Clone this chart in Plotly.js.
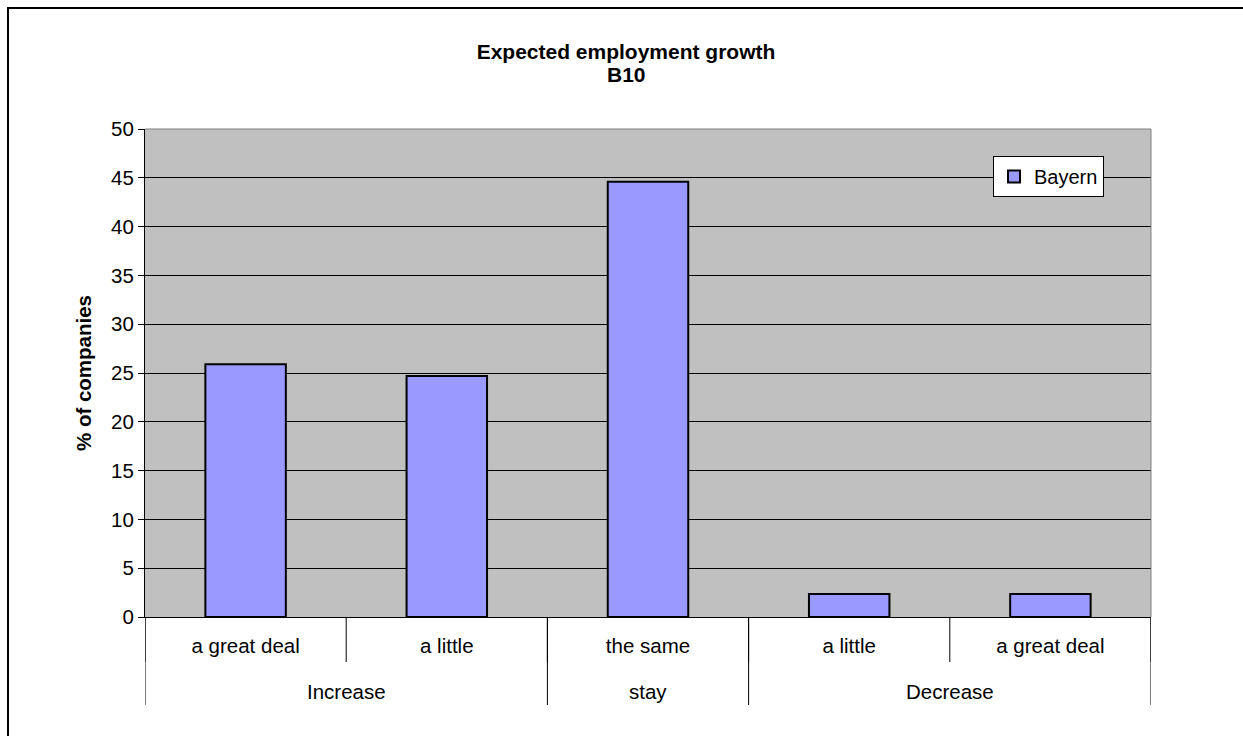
<!DOCTYPE html>
<html>
<head>
<meta charset="utf-8">
<script src="https://cdn.plot.ly/plotly-3.0.1.min.js"></script>
<style>
  html, body { margin: 0; padding: 0; background: #fff; }
  #chart { width: 1243px; height: 736px; }
</style>
</head>
<body>
<div id="chart"></div>
<script>
// ---- data ----
const titleLine1 = 'Expected employment growth';
const titleLine2 = 'B10';
const subLabels = ['a great deal', 'a little', 'the same', 'a little', 'a great deal'];
const groupLabels = ['Increase', 'stay', 'Decrease'];
const groupSizes = [2, 1, 2];
const seriesName = 'Bayern';
const values = [25.9, 24.7, 44.6, 2.35, 2.35];
const yTickVals = [0, 5, 10, 15, 20, 25, 30, 35, 40, 45, 50];

// ---- layout helpers ----
const W = 1243, H = 736;
const M = { l: 145, r: 92, t: 129, b: 119 };
const PW = W - M.l - M.r, PH = H - M.t - M.b;
const px = x => (x - M.l) / PW;
const py = y => (H - M.b - y) / PH;

const FONT = '"Liberation Sans", Arial, "DejaVu Sans", sans-serif';
const FS = 20.5;
const TFS = 21;

const xIdx = subLabels.map((_, i) => i);

// category boundary ticks and group dividers
const shapes = [];
for (let i = 0; i <= subLabels.length; i++) {
  shapes.push({ type: 'line', xref: 'x', yref: 'paper', x0: i - 0.5, x1: i - 0.5,
    y0: 0, y1: py(662), line: { color: '#000', width: 1 } });
}
const annotations = [];
let start = 0;
const groupEdges = [start];
groupSizes.forEach((n, g) => {
  const center = start + (n - 1) / 2;
  annotations.push({ x: center, xref: 'x', y: py(691), yref: 'paper', text: groupLabels[g],
    showarrow: false, xanchor: 'center', yanchor: 'middle', font: { family: FONT, size: FS, color: '#000' } });
  start += n;
  groupEdges.push(start);
});
groupEdges.forEach(e => {
  shapes.push({ type: 'line', xref: 'x', yref: 'paper', x0: e - 0.5, x1: e - 0.5,
    y0: 0, y1: py(705), line: { color: '#000', width: 1 } });
});
// second title line
annotations.push({ x: (626 - M.l) / PW, xref: 'paper', y: py(74), yref: 'paper', text: '<b>' + titleLine2 + '</b>',
  showarrow: false, xanchor: 'center', yanchor: 'middle', font: { family: FONT, size: TFS, color: '#000' } });

// plot area top and right borders (gray)
shapes.push({ type: 'line', xref: 'paper', yref: 'paper', x0: 0, x1: 1, y0: 1, y1: 1, line: { color: '#808080', width: 1 } });
shapes.push({ type: 'line', xref: 'paper', yref: 'paper', x0: 1, x1: 1, y0: 0, y1: 1, line: { color: '#808080', width: 1 } });
// outer chart border
shapes.push({ type: 'rect', xref: 'paper', yref: 'paper', x0: px(8), x1: px(1260), y0: py(8), y1: py(760),
  line: { color: '#000', width: 2 }, fillcolor: 'rgba(0,0,0,0)' });

const trace = {
  type: 'bar',
  name: seriesName,
  x: xIdx,
  y: values,
  width: 0.4,
  marker: { color: '#9999FF', line: { color: '#000', width: 2 } },
  showlegend: true
};

const layout = {
  width: W, height: H,
  margin: M,
  paper_bgcolor: '#fff',
  plot_bgcolor: '#C0C0C0',
  font: { family: FONT, size: FS, color: '#000' },
  title: {
    text: '<b>' + titleLine1 + '</b>',
    font: { family: FONT, size: TFS, color: '#000' },
    x: 626 / W, xref: 'container', xanchor: 'center',
    y: 1 - 52 / H, yref: 'container', yanchor: 'middle'
  },
  showlegend: true,
  legend: {
    x: px(993), y: py(156), xanchor: 'left', yanchor: 'top',
    bgcolor: '#fff', bordercolor: '#000', borderwidth: 1,
    font: { family: FONT, size: 20, color: '#000' },
    itemwidth: 30
  },
  xaxis: {
    type: 'linear',
    range: [-0.5, subLabels.length - 0.5],
    tickmode: 'array', tickvals: xIdx, ticktext: subLabels,
    ticks: '', showgrid: false, zeroline: false,
    showline: true, linecolor: '#000', linewidth: 1,
    ticklabelstandoff: 10,
    tickfont: { family: FONT, size: FS, color: '#000' },
    fixedrange: true
  },
  yaxis: {
    range: [0, 50],
    tickmode: 'array', tickvals: yTickVals,
    ticks: 'outside', ticklen: 6, tickcolor: '#000', tickwidth: 1,
    showgrid: true, gridcolor: '#000', gridwidth: 1,
    zeroline: false,
    showline: true, linecolor: '#000', linewidth: 1,
    tickfont: { family: FONT, size: FS, color: '#000' },
    title: { text: '<b>% of companies</b>', font: { family: FONT, size: FS, color: '#000' }, standoff: 13 },
    fixedrange: true
  },
  shapes: shapes,
  annotations: annotations,
  bargap: 0.6
};

Plotly.newPlot('chart', [trace], layout, { staticPlot: true, displayModeBar: false });
</script>
</body>
</html>
